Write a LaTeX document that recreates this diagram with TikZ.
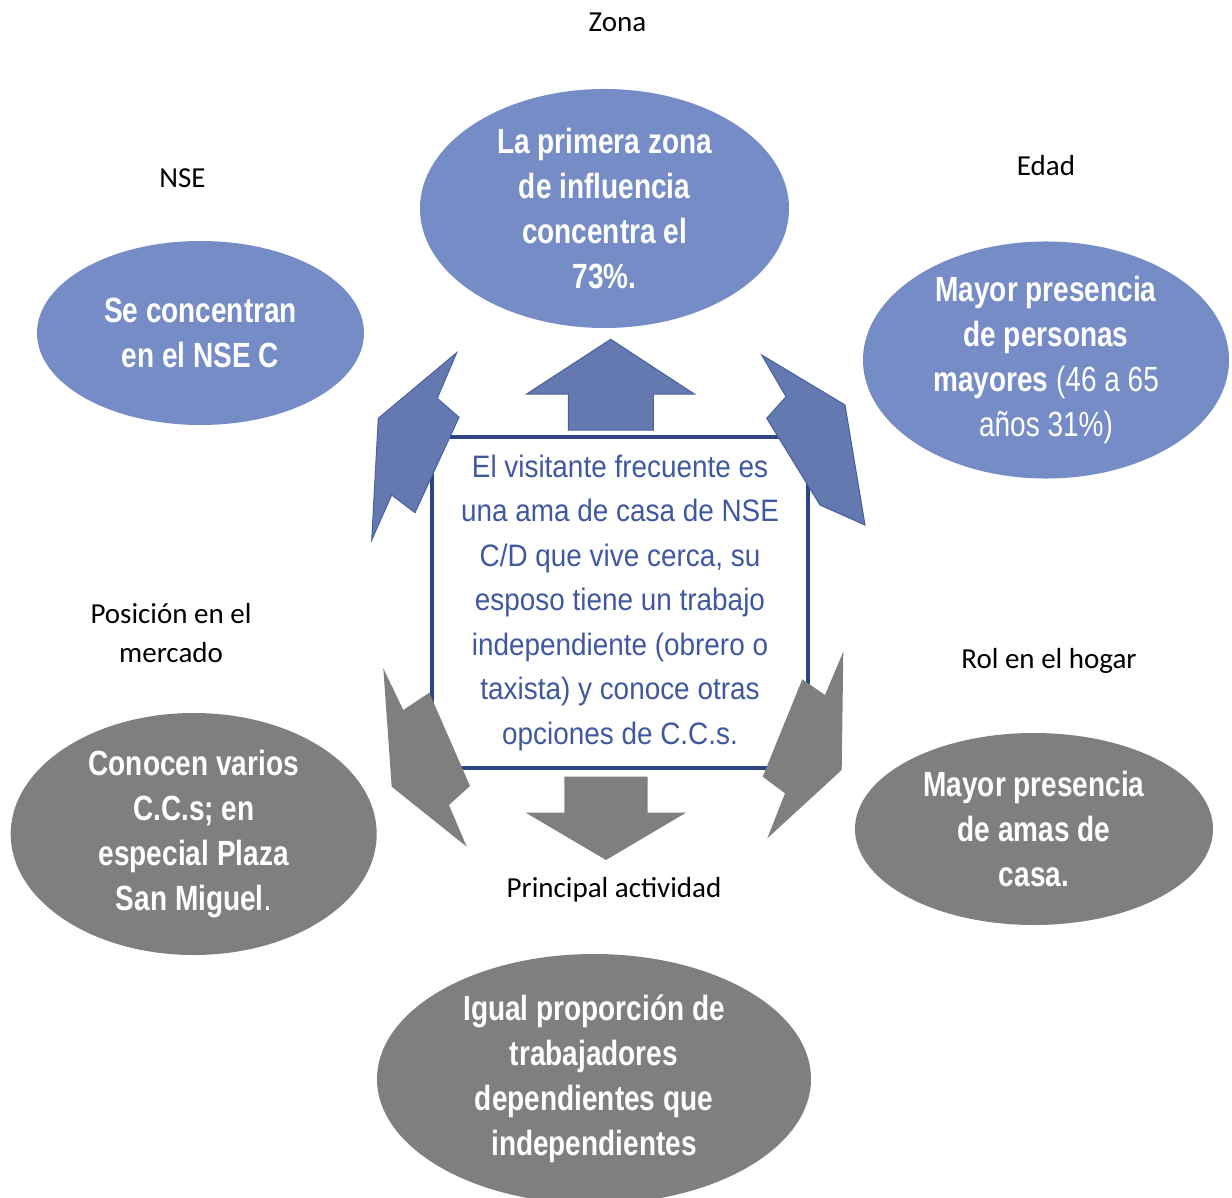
\documentclass[tikz,border=0pt]{standalone}
\usepackage{fontspec}
\setmainfont{Carlito}
\newfontfamily\narrowfont[FakeStretch=0.8]{Liberation Sans}
\newfontfamily\boxfont[FakeStretch=0.9]{Liberation Sans}
\usetikzlibrary{shapes.geometric}
\definecolor{ovalblue}{RGB}{118,140,198}
\definecolor{arrowblue}{RGB}{100,121,176}
\definecolor{edgeblue}{RGB}{72,96,160}
\definecolor{ovalgray}{RGB}{127,127,127}
\definecolor{boxnavy}{RGB}{47,69,131}
\definecolor{textblue}{RGB}{64,88,160}

\begin{document}
\begin{tikzpicture}[x=1pt,y=-1pt,
  oval/.style={ellipse, inner sep=0pt, align=center, text=white,
    font={\narrowfont\bfseries\fontsize{35}{45}\selectfont}},
  blueoval/.style={oval, fill=ovalblue},
  grayoval/.style={oval, fill=ovalgray},
  tag/.style={anchor=base, align=center, font={\fontsize{29}{39}\selectfont}},
  bluearrow/.style={fill=arrowblue, draw=edgeblue, line width=1pt},
  grayarrow/.style={fill=ovalgray}]
  \useasboundingbox (0,0) rectangle (1232,1198);

  % ovals round the centre
  \node[blueoval, minimum width=369pt, minimum height=239pt] (zona) at (604.5,208.5)
    {La primera zona\\de influencia\\concentra el\\73\%.};
  \node[blueoval, minimum width=327pt, minimum height=184pt] (nse) at (200.5,333)
    {Se concentran\\en el NSE C};
  \node[blueoval, minimum width=366pt, minimum height=235pt] (edad) at (1046,360)
    {Mayor presencia\\de personas\\mayores {\mdseries(46 a 65}\\{\mdseries años 31\%)}};
  \node[grayoval, minimum width=366pt, minimum height=242pt] (mercado) at (193.7,834)
    {Conocen varios\\C.C.s; en\\especial Plaza\\San Miguel{\mdseries.}};
  \node[grayoval, minimum width=358pt, minimum height=192pt] (hogar) at (1034,829)
    {Mayor presencia\\de amas de\\casa.};
  \node[grayoval, minimum width=434pt, minimum height=250pt] (actividad) at (594,1079)
    {Igual proporción de\\trabajadores\\dependientes que\\independientes};

  % titles
  \node[tag] (zonatag) at (617.5,31.7) {Zona};
  \node[tag] (nsetag) at (182.5,187.3) {NSE};
  \node[tag] (edadtag) at (1046,176) {Edad};
  \node[tag] (mercadotag) at (171,662) {Posición en el\\mercado};
  \node[tag] (hogartag) at (1049,668) {Rol en el hogar};
  \node[tag] (actividadtag) at (614,897) {Principal actividad};

  % centre box
  \node[draw=boxnavy, line width=3.5pt, fill=white, minimum width=376pt, minimum height=331pt,
    text=textblue, align=center, font={\boxfont\fontsize{31}{44.5}\selectfont}] (visitante) at (620,602.5)
    {El visitante frecuente es\\una ama de casa de NSE\\C/D que vive cerca, su\\esposo tiene un trabajo\\independiente (obrero o\\taxista) y conoce otras\\opciones de C.C.s.};

  % block arrows
  \draw[bluearrow] (610.7,339.3) -- (694.3,394) -- (653.3,394) -- (653.3,430) -- (568.3,430) -- (568.3,394) -- (526.7,394) -- cycle;
  \draw[bluearrow] (456.7,352.7) -- (437.3,398.3) -- (459,417.3) -- (415,512.7) -- (391.7,495) -- (371.7,540) -- (378.3,418.3) -- cycle;
  \draw[bluearrow] (761.7,355) -- (845,405) -- (865,525) -- (820,505) -- (766.7,418.3) -- (786,396.7) -- cycle;
  \fill[grayarrow] (564.3,776.7) -- (647.7,776.7) -- (647.7,812.7) -- (686,812.7) -- (606,860) -- (525.7,812.7) -- (564.3,812.7) -- cycle;
  \fill[grayarrow] (383.3,668.3) -- (403.3,710) -- (429.3,692.7) -- (470,786) -- (449,805) -- (466.7,846.7) -- (391.7,786.7) -- cycle;
  \fill[grayarrow] (843.3,651.7) -- (841.7,770) -- (767.3,838.3) -- (785,793.3) -- (762.7,776.7) -- (802.3,679.3) -- (825,695) -- cycle;
\end{tikzpicture}
\end{document}
